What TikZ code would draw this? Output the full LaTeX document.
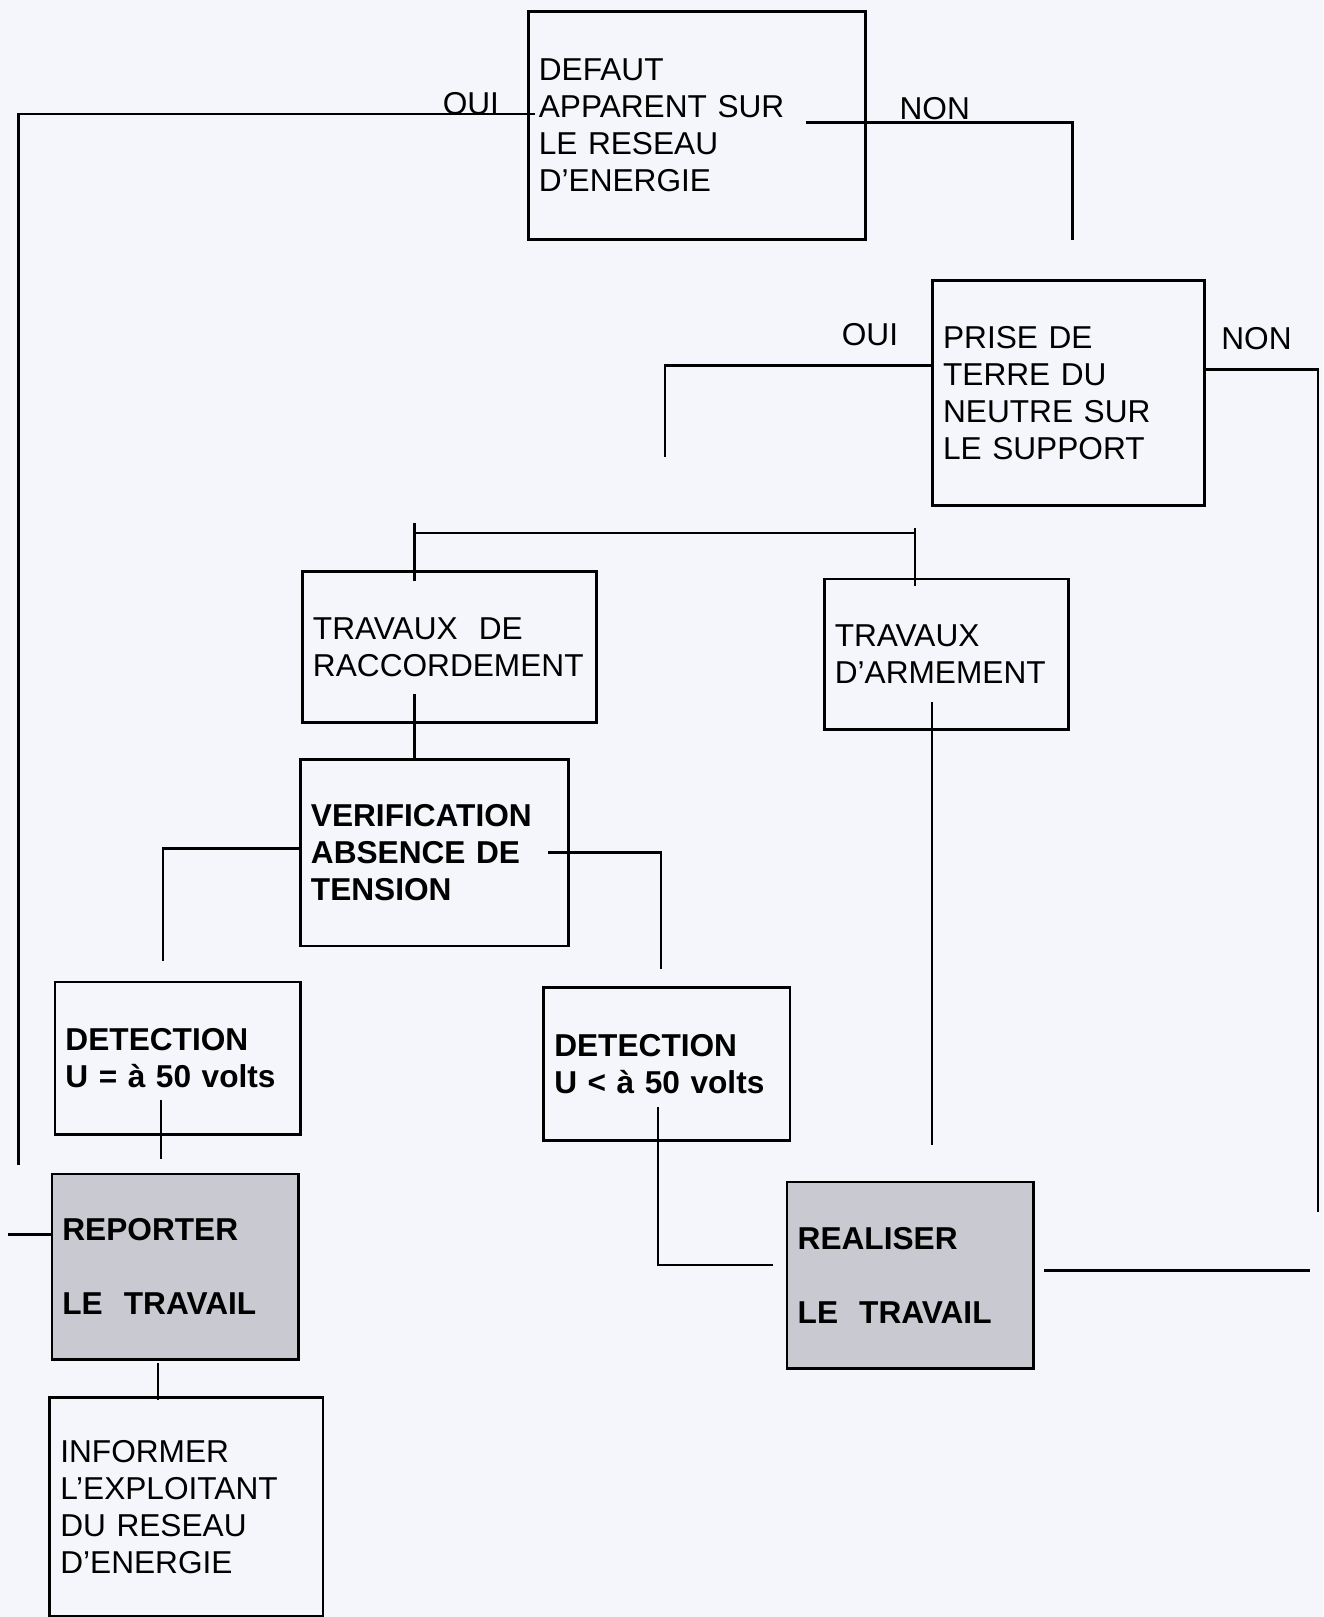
\documentclass[tikz,border=0pt]{standalone}
\usepackage{fontspec}
\setmainfont{Liberation Sans}
\usetikzlibrary{positioning}

\definecolor{paper}{RGB}{245,246,251}
\definecolor{boxgrey}{RGB}{201,202,209}

\tikzset{
  box/.style={draw, line width=1.5pt, align=left, inner xsep=6pt, anchor=north west,
    font=\fontsize{18}{21.1}\selectfont},
  bbox/.style={box, font=\fontsize{18}{21.1}\selectfont\bfseries},
  greybox/.style={bbox, fill=boxgrey},
  link/.style={line width=1.35pt},
  lbl/.style={inner sep=0pt, anchor=west, font=\fontsize{18}{21.1}\selectfont},
}

\begin{document}
\begin{tikzpicture}[x=0.58681pt, y=-0.58681pt]
    \fill[paper] (0,0) rectangle (1283,1568);
    \useasboundingbox (0,0) rectangle (1283,1568);
    % questions
    \node[box, text width=180pt, minimum height=129.7pt] (defaut) at (511,10) {DEFAUT\\APPARENT SUR\\LE RESEAU\\D’ENERGIE};
    \node[box, text width=142.9pt, minimum height=127.9pt] (prise) at (903,271) {PRISE DE\\TERRE DU\\NEUTRE SUR\\LE SUPPORT};
    % travaux
    \node[box, text width=155.2pt, minimum height=85.7pt] (raccord) at (292,553) {TRAVAUX\ \ DE\\RACCORDEMENT};
    \node[box, text width=127.1pt, minimum height=85.7pt] (armement) at (798,560) {TRAVAUX\\D’ARMEMENT};
    \node[bbox, text width=140.6pt, minimum height=106.2pt] (verif) at (290,735) {VERIFICATION\\ABSENCE DE\\TENSION};
    \node[bbox, text width=127.7pt, minimum height=86.8pt] (detegal) at (52,951) {DETECTION\\U = à 50 volts};
    \node[bbox, text width=128.2pt, minimum height=87.4pt] (detinf) at (526,956) {DETECTION\\U < à 50 volts};
    % decisions
    \node[greybox, text width=128.2pt, minimum height=105.6pt] (reporter) at (49,1137) {REPORTER\\[21.1pt]LE\ \ TRAVAIL};
    \node[greybox, text width=128.2pt, minimum height=106.2pt] (realiser) at (762,1145) {REALISER\\[21.1pt]LE\ \ TRAVAIL};
    \node[box, text width=143.5pt, minimum height=124.4pt] (informer) at (47,1354) {INFORMER\\L’EXPLOITANT\\DU RESEAU\\D’ENERGIE};

    \node[lbl] (oui1) at (429,100) {OUI};
    \node[lbl] (non1) at (872,105) {NON};
    \node[lbl] (oui2) at (816,324) {OUI};
    \node[lbl] (non2) at (1184,328) {NON};

    \coordinate (ouiB) at (18,1130);
    \coordinate (repL) at (8,1197);
    \coordinate (nonB) at (1040,233);
    \coordinate (ouiP) at (645,443);
    \coordinate (nonP) at (1278,1175);
    \coordinate (nonR) at (1270,1232);
    \coordinate (brL) at (402,517);
    \coordinate (brR) at (887,517);
    \coordinate (verL) at (158,932);
    \coordinate (verR) at (641,940);
    \coordinate (detQ) at (156,1067);
    \coordinate (detI) at (638,1073);
    \coordinate (armB) at (904,681);
    \coordinate (repB) at (153,1322);

    \draw[link] (defaut.west) ++(8,-11) -| (ouiB);
    \draw[link] (repL) -- (repL -| reporter.west);
    \draw[link] (defaut.center) ++(106,-3) -| (nonB);
    \draw[link] (prise.west) ++(0,-27) -| (ouiP);
    \draw[link] (prise.east) ++(0,-23) -| (nonP);
    \draw[link] (realiser.east |- nonR) ++(9,0) -- (nonR);
    \draw[link] (brL) -- (brR);
    \draw[link] ([yshift=6pt]brL) -- ([yshift=-6pt]brL |- raccord.north);
    \draw[link] ([yshift=3pt]brR) -- ([yshift=-5pt]brR |- armement.north);
    \draw[link] (brL |- verif.north) -- ++(0,-62);
    \draw[link] (verif.west) ++(0,-4) -| (verL);
    \draw[link] (verif.center) ++(110,0) -| (verR);
    \draw[link] (detQ) -- ([yshift=7.6pt]detQ |- reporter.north);
    \draw[link] (detI) |- ([shift={(-12,-10)}]realiser.west);
    \draw[link] (armB) -- ([yshift=20.5pt]armB |- realiser.north);
    \draw[link] (repB) -- ([yshift=-2pt]repB |- informer.north);
\end{tikzpicture}
\end{document}
